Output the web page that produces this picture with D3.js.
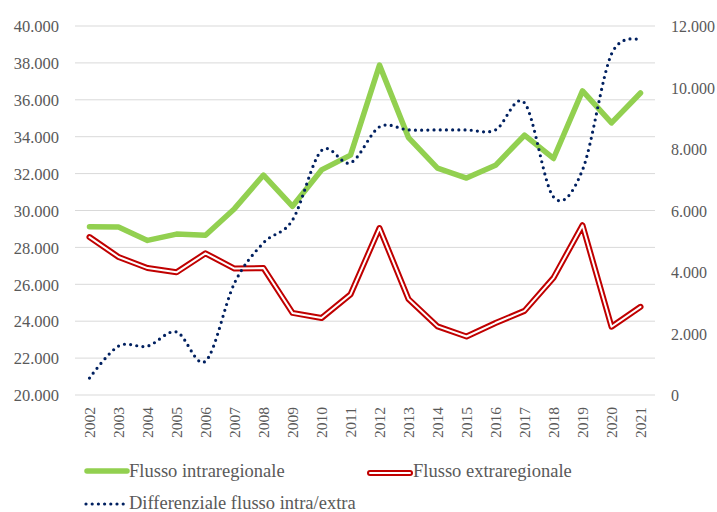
<!DOCTYPE html>
<html>
<head>
<meta charset="utf-8">
<script src="https://cdn.jsdelivr.net/npm/d3@7"></script>
<style>
  body { margin: 0; background: #fff; }
  svg text { font-family: 'Liberation Serif', 'Times New Roman', serif !important; fill: #595959; }
</style>
</head>
<body>
<script>
// data
var years = ['2002','2003','2004','2005','2006','2007','2008','2009','2010','2011',
             '2012','2013','2014','2015','2016','2017','2018','2019','2020','2021'];
var intra = [29120, 29100, 28380, 28720, 28660, 30100, 31920, 30230, 32200, 33000,
             37880, 33950, 32300, 31760, 32450, 34080, 32820, 36480, 34750, 36370];
var extra = [28560, 27480, 26880, 26650, 27680, 26850, 26880, 24450, 24170, 25450,
             29050, 25200, 23720, 23170, 23900, 24560, 26350, 29200, 23700, 24780];
var diff = [550, 1590, 1590, 2050, 1100, 3640, 4950, 5690, 7950, 7550,
            8720, 8620, 8620, 8620, 8620, 9500, 6440, 7320, 11090, 11540];
var leftTicks = [20000, 22000, 24000, 26000, 28000, 30000, 32000, 34000, 36000, 38000, 40000];
var rightTicks = [0, 2000, 4000, 6000, 8000, 10000, 12000];

var fmt = function(v){ return v === 0 ? '0' : d3.format(',')(v).replace(/,/g, '.'); };

var svg = d3.select('body').append('svg')
  .attr('width', 717)
  .attr('height', 512)
  .attr('font-family', 'Liberation Serif');

var x = d3.scaleBand().domain(years).range([75, 655]);
var yL = d3.scaleLinear().domain([20000, 40000]).range([395, 26]);
var yR = d3.scaleLinear().domain([0, 12000]).range([395, 26]);

// grid
svg.append('g').selectAll('line')
  .data(leftTicks)
  .enter().append('line')
  .attr('x1', 75).attr('x2', 655)
  .attr('y1', function(d){ return yL(d); })
  .attr('y2', function(d){ return yL(d); })
  .attr('stroke', '#d9d9d9')
  .attr('stroke-width', 1);

// left axis
var la = svg.append('g').attr('transform', 'translate(59,0)')
  .call(d3.axisLeft(yL).tickValues(leftTicks).tickFormat(fmt).tickSize(0).tickPadding(0));
la.select('.domain').remove();
la.attr('font-family', 'Liberation Serif').attr('font-size', 16.5);
la.selectAll('text').attr('dy', '0.35em');

// right axis
var ra = svg.append('g').attr('transform', 'translate(671,0)')
  .call(d3.axisRight(yR).tickValues(rightTicks).tickFormat(fmt).tickSize(0).tickPadding(0));
ra.select('.domain').remove();
ra.attr('font-family', 'Liberation Serif').attr('font-size', 16);
ra.selectAll('text').attr('dy', '0.35em');

// x labels
var xa = svg.append('g').attr('transform', 'translate(0,407)')
  .call(d3.axisBottom(x).tickSize(0).tickPadding(0));
xa.select('.domain').remove();
xa.attr('font-family', 'Liberation Serif').attr('font-size', 15.5);
xa.selectAll('text')
  .attr('text-anchor', 'end')
  .attr('transform', 'rotate(-90)')
  .attr('x', 0)
  .attr('y', 0)
  .attr('dy', '0.35em');

var cx = function(d, i){ return x(years[i]) + x.bandwidth() / 2; };

var lineL = d3.line().x(cx).y(function(d){ return yL(d); });
var lineR = d3.line().x(cx).y(function(d){ return yR(d); }).curve(d3.curveCatmullRom.alpha(0));

// extraregionale: red double line
svg.append('path').datum(extra)
  .attr('d', lineL)
  .attr('fill', 'none')
  .attr('stroke', '#C00000')
  .attr('stroke-width', 6)
  .attr('stroke-linejoin', 'round')
  .attr('stroke-linecap', 'round');
svg.append('path').datum(extra)
  .attr('d', lineL)
  .attr('fill', 'none')
  .attr('stroke', '#ffffff')
  .attr('stroke-width', 2)
  .attr('stroke-linejoin', 'round')
  .attr('stroke-linecap', 'round');

// intraregionale: green
svg.append('path').datum(intra)
  .attr('d', lineL)
  .attr('fill', 'none')
  .attr('stroke', '#92D050')
  .attr('stroke-width', 5.5)
  .attr('stroke-linejoin', 'round')
  .attr('stroke-linecap', 'round');

// differenziale: navy dots
svg.append('path').datum(diff)
  .attr('d', lineR)
  .attr('fill', 'none')
  .attr('stroke', '#002060')
  .attr('stroke-width', 3.2)
  .attr('stroke-dasharray', '0 6.2')
  .attr('stroke-linecap', 'round');

// legend
var leg = svg.append('g').attr('font-size', 18.5);
leg.append('line').attr('x1', 87).attr('x2', 127).attr('y1', 471).attr('y2', 471)
  .attr('stroke', '#92D050').attr('stroke-width', 5.5).attr('stroke-linecap', 'round');
leg.append('text').attr('x', 129).attr('y', 471).attr('dy', '0.33em')
  .text('Flusso intraregionale');

leg.append('line').attr('x1', 370).attr('x2', 410).attr('y1', 473).attr('y2', 473)
  .attr('stroke', '#C00000').attr('stroke-width', 6).attr('stroke-linecap', 'round');
leg.append('line').attr('x1', 370).attr('x2', 410).attr('y1', 473).attr('y2', 473)
  .attr('stroke', '#fff').attr('stroke-width', 2).attr('stroke-linecap', 'round');
leg.append('text').attr('x', 413).attr('y', 471).attr('dy', '0.33em')
  .text('Flusso extraregionale');

leg.append('line').attr('x1', 86).attr('x2', 128).attr('y1', 504).attr('y2', 504)
  .attr('stroke', '#002060').attr('stroke-width', 3.2)
  .attr('stroke-dasharray', '0 6.2').attr('stroke-linecap', 'round');
leg.append('text').attr('x', 129).attr('y', 503).attr('dy', '0.33em')
  .text('Differenziale flusso intra/extra');
</script>
</body>
</html>
